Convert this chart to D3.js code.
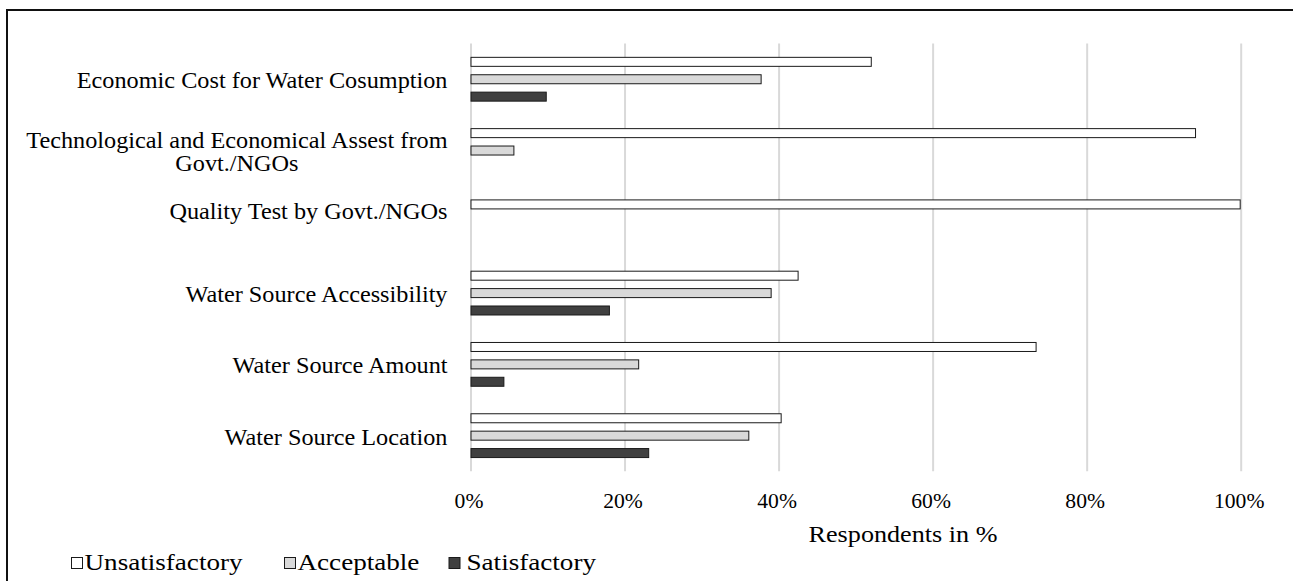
<!DOCTYPE html>
<html>
<head>
<meta charset="utf-8">
<script src="https://cdn.jsdelivr.net/npm/d3@7"></script>
<style>
  html, body { margin: 0; padding: 0; background: #fff; }
  svg { display: block; }
  text { font-family: "Liberation Serif", "Times New Roman", serif; fill: #000; }
</style>
</head>
<body>
<script>
// ---------------- data ----------------
const categories = [
  "Economic Cost for Water Cosumption",
  "Technological and Economical Assest from\nGovt./NGOs",
  "Quality Test by Govt./NGOs\n",
  "Water Source Accessibility",
  "Water Source Amount",
  "Water Source Location"
];
const series = ["Unsatisfactory", "Acceptable", "Satisfactory"];
const unsatisfactory = [0.521, 0.942, 1.000, 0.426, 0.735, 0.404];
const acceptable     = [0.378, 0.057, null,  0.391, 0.219, 0.362];
const satisfactory   = [0.099, null,  null,  0.181, 0.044, 0.232];
const xTicks = [0, 0.2, 0.4, 0.6, 0.8, 1.0];
const xTitle = "Respondents in %";

// ---------------- layout / style ----------------
const W = 1293, H = 581;
const plot = { left: 470.5, right: 1240.7, top: 43.6, bottom: 471.3 };
const fills = { "Unsatisfactory": "#ffffff", "Acceptable": "#d9d9d9", "Satisfactory": "#404040" };

const values = { "Unsatisfactory": unsatisfactory, "Acceptable": acceptable, "Satisfactory": satisfactory };
const rows = [];
categories.forEach((c, i) => series.forEach(s => {
  const v = values[s][i];
  if (v != null) rows.push({ cat: c, series: s, value: v });
}));

const svg = d3.select("body").append("svg").attr("width", W).attr("height", H);

const x = d3.scaleLinear().domain([0, 1]).range([plot.left, plot.right]);
const y = d3.scaleBand().domain(categories).range([plot.top, plot.bottom]).padding(0);
const ySub = d3.scaleBand().domain(series).range([0, y.bandwidth()])
  .paddingInner(0.425).paddingOuter(0.761);

// outer frame (only left + top edges visible in the crop)
svg.append("path")
  .attr("d", `M7,${H + 5} V10 H${W + 5}`)
  .attr("fill", "none").attr("stroke", "#111").attr("stroke-width", 2);

// x axis with gridlines
const xAxis = svg.append("g")
  .attr("transform", `translate(0,${plot.bottom})`)
  .call(d3.axisBottom(x).tickValues(xTicks).tickFormat(d3.format(".0%"))
    .tickSize(-(plot.bottom - plot.top)).tickPadding(0));
xAxis.select(".domain").remove();
xAxis.selectAll(".tick line").attr("stroke", "#d9d9d9").attr("stroke-width", 2);
xAxis.selectAll(".tick text")
  .attr("y", 0).attr("dy", 0)
  .attr("font-size", 21)
  .attr("transform", "translate(-2,37) scale(1.03,1)");

// bars
svg.append("g").selectAll("rect").data(rows).join("rect")
  .attr("x", x(0) + 0.5)
  .attr("y", d => y(d.cat) + ySub(d.series) + 0.5)
  .attr("width", d => Math.max(0, x(d.value) - x(0) - 1))
  .attr("height", ySub.bandwidth() - 1)
  .attr("fill", d => fills[d.series])
  .attr("stroke", "#1a1a1a").attr("stroke-width", 1);

// y axis (category labels)
const yAxis = svg.append("g")
  .attr("transform", `translate(447.5,0)`)
  .call(d3.axisLeft(y).tickSize(0).tickPadding(0));
yAxis.select(".domain").remove();
const lineH = 23;
yAxis.selectAll(".tick text").each(function(d) {
  const t = d3.select(this);
  const lines = d.split("\n");
  t.text(null).attr("x", 0).attr("dy", null).attr("font-size", 23)
    .attr("text-anchor", "end")
    .attr("transform", "scale(1.055,1)");
  const n = lines.length;
  const spans = lines.map((ln, i) => t.append("tspan")
    .attr("x", 0)
    .attr("y", 9 + (i - (n - 1) / 2) * lineH)
    .text(ln));
  const widths = spans.map(s => s.node().getComputedTextLength());
  const maxW = d3.max(widths);
  spans.forEach((s, i) => s.attr("x", -(maxW - widths[i]) / 2));
});

// x axis title
svg.append("text")
  .attr("text-anchor", "middle")
  .attr("font-size", 24)
  .attr("transform", "translate(903,542) scale(1.09,1)")
  .text(xTitle);

// legend
const legendX = [71, 284, 448.5];
const legendTextX = [84.5, 297.5, 466.5];
const lg = svg.append("g");
series.forEach((s, i) => {
  lg.append("rect")
    .attr("x", legendX[i] + 0.5).attr("y", 557.5)
    .attr("width", 11).attr("height", 11)
    .attr("fill", fills[s]).attr("stroke", "#1a1a1a").attr("stroke-width", 1);
  lg.append("text")
    .attr("font-size", 24)
    .attr("transform", `translate(${legendTextX[i]},570) scale(1.13,1)`)
    .text(s);
});
</script>
</body>
</html>
